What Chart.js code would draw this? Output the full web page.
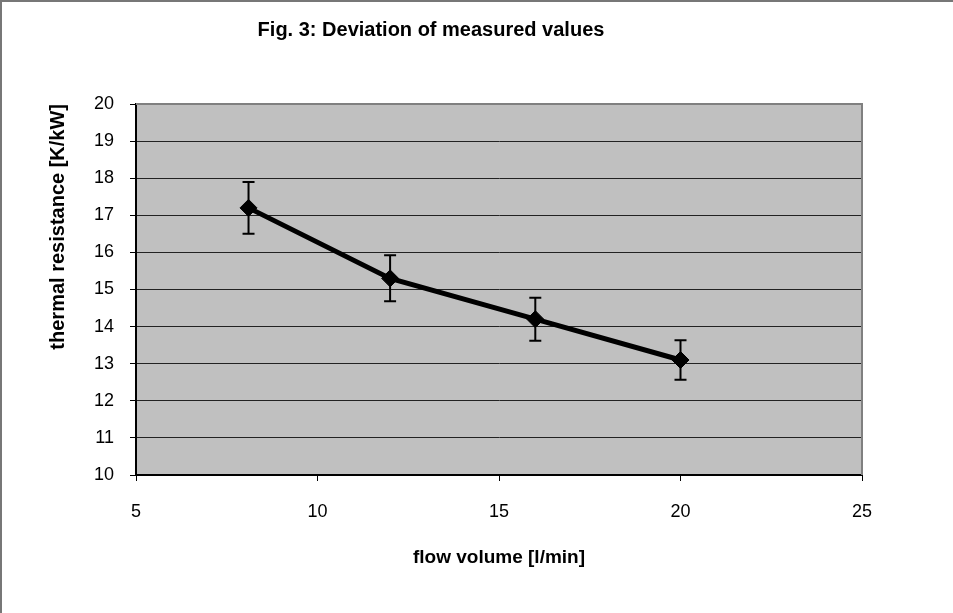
<!DOCTYPE html>
<html>
<head>
<meta charset="utf-8">
<script src="https://cdn.jsdelivr.net/npm/chart.js@4/dist/chart.umd.min.js"></script>
<style>
  html, body { margin: 0; padding: 0; background: #fff; }
  #wrap { width: 953px; height: 613px; position: relative; }
</style>
</head>
<body>
<div id="wrap"><canvas id="chart"></canvas></div>
<script>
// values
const flowVolume = [8.1, 12, 16, 20];            // l/min
const thermalResistance = [17.2, 15.3, 14.2, 13.1]; // K/kW
const deviation = [0.7, 0.62, 0.58, 0.53];         // +/- K/kW

const xTicks = [5, 10, 15, 20, 25];
const yTicks = [10, 11, 12, 13, 14, 15, 16, 17, 18, 19, 20];

const points = flowVolume.map((x, i) => ({ x: x, y: thermalResistance[i] }));

// grey plot background, grey top/right frame, outer page border
const frame = {
    id: 'frame',
    beforeDraw(chart) {
        const { ctx, chartArea: a } = chart;
        ctx.save();
        ctx.fillStyle = '#c0c0c0';
        ctx.fillRect(a.left, a.top, a.right - a.left, a.bottom - a.top);
        ctx.strokeStyle = '#777';
        ctx.lineWidth = 2;
        ctx.beginPath();
        ctx.moveTo(1, chart.height);
        ctx.lineTo(1, 1);
        ctx.lineTo(chart.width, 1);
        ctx.stroke();
        ctx.restore();
    },
    afterDraw(chart) {
        const { ctx, chartArea: a } = chart;
        ctx.save();
        ctx.strokeStyle = '#808080';
        ctx.lineWidth = 2;
        ctx.beginPath();
        ctx.moveTo(a.left, a.top);
        ctx.lineTo(a.right, a.top);
        ctx.lineTo(a.right, a.bottom);
        ctx.stroke();
        ctx.restore();
    }
};

// vertical error bars with caps
const errorBars = {
    id: 'errorBars',
    afterDatasetsDraw(chart) {
        const { ctx, scales: { x, y } } = chart;
        ctx.save();
        ctx.strokeStyle = '#000';
        ctx.lineWidth = 2;
        flowVolume.forEach((fv, i) => {
            const px = x.getPixelForValue(fv);
            const top = y.getPixelForValue(thermalResistance[i] + deviation[i]);
            const bot = y.getPixelForValue(thermalResistance[i] - deviation[i]);
            ctx.beginPath();
            ctx.moveTo(px, top); ctx.lineTo(px, bot);
            ctx.moveTo(px - 6, top); ctx.lineTo(px + 6, top);
            ctx.moveTo(px - 6, bot); ctx.lineTo(px + 6, bot);
            ctx.stroke();
        });
        ctx.restore();
    }
};

new Chart(document.getElementById('chart'), {
    type: 'scatter',
    data: {
        datasets: [{
            data: points,
            showLine: true,
            borderColor: '#000',
            borderWidth: 5,
            backgroundColor: '#000',
            pointStyle: 'rectRot',
            pointRadius: 8.5,
            pointBorderWidth: 1,
            pointBackgroundColor: '#000',
            pointBorderColor: '#000'
        }]
    },
    options: {
        responsive: true,
        maintainAspectRatio: false,
        animation: false,
        layout: { padding: { left: 0, right: 91, top: 0, bottom: 0 } },
        plugins: {
            legend: { display: false },
            tooltip: { enabled: false },
            title: {
                display: true,
                text: 'Fig. 3: Deviation of measured values',
                color: '#000',
                font: { family: 'Liberation Sans, Arial', size: 20, weight: 'bold' },
                padding: { top: 18, bottom: 62 }
            }
        },
        scales: {
            x: {
                type: 'linear',
                min: 5, max: 25,
                afterBuildTicks: s => { s.ticks = xTicks.map(v => ({ value: v })); },
                afterFit: s => { s.height = 138; },
                grid: { drawOnChartArea: false, drawTicks: true, tickLength: 6, color: '#000', tickColor: '#000' },
                border: { color: '#000', width: 2 },
                ticks: {
                    color: '#000', padding: 20,
                    font: { family: 'Liberation Sans, Arial', size: 18 }
                },
                title: {
                    display: true,
                    text: 'flow volume [l/min]',
                    color: '#000',
                    font: { family: 'Liberation Sans, Arial', size: 19, weight: 'bold' },
                    padding: { top: 0, bottom: 44 }
                }
            },
            y: {
                type: 'linear',
                min: 10, max: 20,
                afterBuildTicks: s => { s.ticks = yTicks.map(v => ({ value: v })); },
                afterFit: s => { s.width = 136; },
                grid: {
                    color: ctx => ctx.tick && (ctx.tick.value === 20 || ctx.tick.value === 10) ? 'rgba(0,0,0,0)' : '#222',
                    lineWidth: 1,
                    drawTicks: true, tickLength: 6, tickColor: '#000'
                },
                border: { color: '#000', width: 2 },
                ticks: {
                    color: '#000', padding: 16,
                    font: { family: 'Liberation Sans, Arial', size: 18 }
                },
                title: {
                    display: true,
                    text: 'thermal resistance [K/kW]',
                    align: 'end',
                    color: '#000',
                    font: { family: 'Liberation Sans, Arial', size: 20, weight: 'bold' },
                    padding: { top: 46, bottom: 0 }
                }
            }
        }
    },
    plugins: [frame, errorBars]
});
</script>
</body>
</html>
